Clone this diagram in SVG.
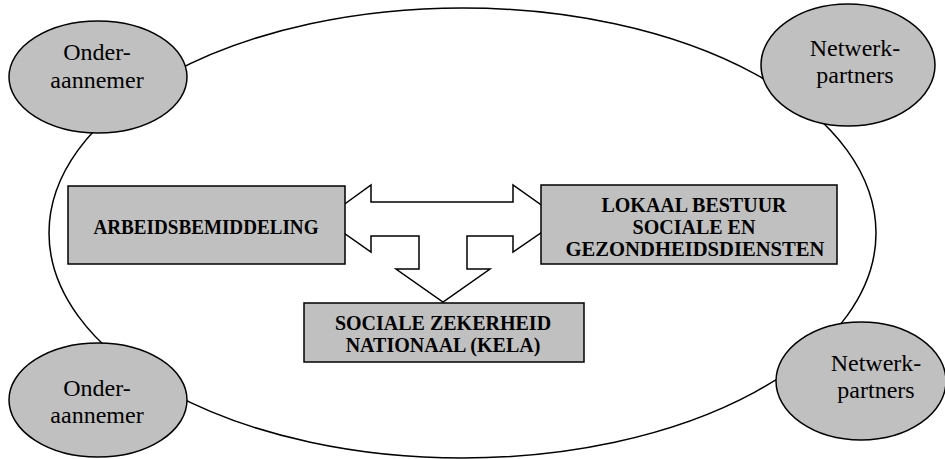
<svg xmlns="http://www.w3.org/2000/svg" width="945" height="459" viewBox="0 0 945 459">
<style>
.bg{fill:#ffffff}
.big{fill:none;stroke:#000;stroke-width:1.5}
.sat{fill:#c0c0c0;stroke:#000;stroke-width:1.5}
.box{fill:#c0c0c0;stroke:#000;stroke-width:1.5}
.arrow{fill:#fff;stroke:#000;stroke-width:1.5;stroke-linejoin:miter}
.lbl{font-family:"Liberation Serif","DejaVu Serif",serif;font-size:24px;fill:#000;text-anchor:middle}
.blbl{font-family:"Liberation Serif","DejaVu Serif",serif;font-size:20px;font-weight:bold;fill:#000;text-anchor:middle}
</style>
<rect class="bg" x="0" y="0" width="945" height="459"/>
<g id="context">
<ellipse class="big" cx="462.5" cy="233" rx="413.5" ry="225"/>
</g>
<g id="connectors">
<path class="arrow" d="M324,219 L371,185 L371,202 L513,202 L513,185 L561,219 L513,252 L513,236 L467,236 L467,269 L490,269 L443,302 L396,269 L419,269 L419,236 L371,236 L371,252 Z"/>
</g>
<g id="onder1">
<ellipse class="sat" cx="98" cy="77" rx="89" ry="56"/>
<text class="lbl" x="97" y="60">Onder-</text>
<text class="lbl" x="97" y="88">aannemer</text>
</g>
<g id="netwerk1">
<ellipse class="sat" cx="848" cy="65" rx="87" ry="61"/>
<text class="lbl" x="855" y="56">Netwerk-</text>
<text class="lbl" x="855" y="83">partners</text>
</g>
<g id="onder2">
<ellipse class="sat" cx="98" cy="400" rx="89" ry="57"/>
<text class="lbl" x="97" y="396">Onder-</text>
<text class="lbl" x="97" y="423">aannemer</text>
</g>
<g id="netwerk2">
<ellipse class="sat" cx="861" cy="381" rx="85" ry="59"/>
<text class="lbl" x="876" y="371">Netwerk-</text>
<text class="lbl" x="876" y="398">partners</text>
</g>
<g id="arbeid">
<rect class="box" x="68" y="186" width="277" height="78"/>
<text class="blbl" x="206" y="234" textLength="225" lengthAdjust="spacingAndGlyphs">ARBEIDSBEMIDDELING</text>
</g>
<g id="lokaal">
<rect class="box" x="541" y="185" width="296" height="79"/>
<text class="blbl" x="694" y="212">LOKAAL BESTUUR</text>
<text class="blbl" x="694" y="234">SOCIALE EN</text>
<text class="blbl" x="695" y="256" textLength="259" lengthAdjust="spacingAndGlyphs">GEZONDHEIDSDIENSTEN</text>
</g>
<g id="kela">
<rect class="box" x="304" y="303" width="280" height="59"/>
<text class="blbl" x="443" y="330">SOCIALE ZEKERHEID</text>
<text class="blbl" x="443" y="352">NATIONAAL (KELA)</text>
</g>
</svg>
